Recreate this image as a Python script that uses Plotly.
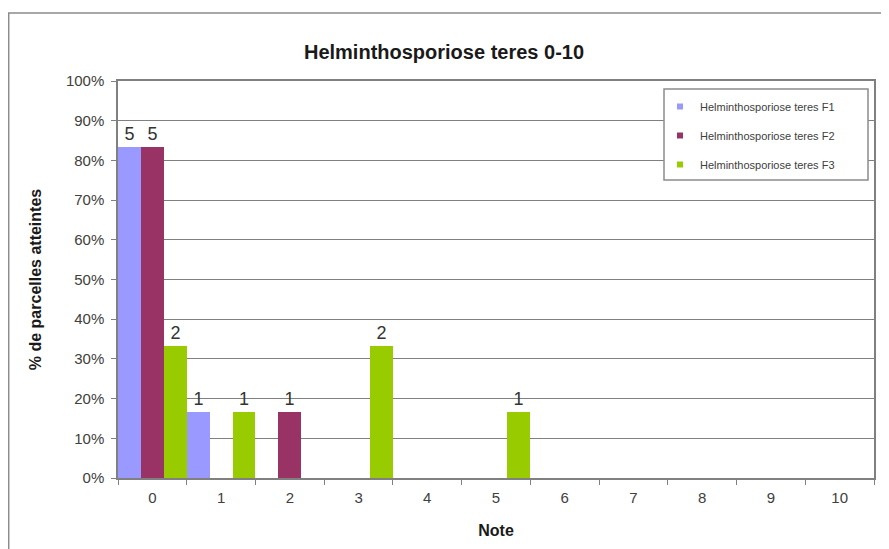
import plotly.graph_objects as go

notes = ["0", "1", "2", "3", "4", "5", "6", "7", "8", "9", "10"]
f1_pct = [0.833, 0.167, 0, 0, 0, 0, 0, 0, 0, 0, 0]
f2_pct = [0.833, 0, 0.167, 0, 0, 0, 0, 0, 0, 0, 0]
f3_pct = [0.333, 0.167, 0, 0.333, 0, 0.167, 0, 0, 0, 0, 0]
f1_n = [5, 1, 0, 0, 0, 0, 0, 0, 0, 0, 0]
f2_n = [5, 0, 1, 0, 0, 0, 0, 0, 0, 0, 0]
f3_n = [2, 1, 0, 2, 0, 1, 0, 0, 0, 0, 0]
names = ["Helminthosporiose teres F1", "Helminthosporiose teres F2", "Helminthosporiose teres F3"]
colors = ["#9999FF", "#993366", "#99CC00"]

fig = go.Figure()
for i, (vals, counts) in enumerate([(f1_pct, f1_n), (f2_pct, f2_n), (f3_pct, f3_n)]):
    fig.add_trace(go.Bar(
        x=notes, y=vals, name=names[i], marker_color=colors[i],
        marker_line_width=0,
        text=[str(c) if c else "" for c in counts],
        textposition="outside", cliponaxis=False,
        textfont=dict(size=18, color="#333333", family="Arial"),
        legendgroup="g%d" % i, showlegend=False,
    ))
# legend entries with small square symbols
for i in range(3):
    fig.add_trace(go.Scatter(
        x=[None], y=[None], mode="markers", name=names[i],
        marker=dict(symbol="square", size=6, color=colors[i]),
        legendgroup="g%d" % i, showlegend=True,
    ))

# The page shows the figure offset by 8px; build in reference pixel coords.
OFF = 8
W, H = 889 - OFF, 549 - OFF
L, R, T, B = 118 - OFF, 889 - 874, 81 - OFF, 549 - 478
pw, ph = W - L - R, H - T - B

def px(xr):
    return (xr - OFF - L) / pw

def py(yr):
    return (H - B - (yr - OFF)) / ph

shapes = [
    # outer chart border
    dict(type="rect", xref="paper", yref="paper", x0=px(8.7), x1=px(900), y0=py(570), y1=py(13),
         line=dict(color="#8c8c8c", width=1.5), layer="below"),
    # legend box
    dict(type="rect", xref="paper", yref="paper", x0=px(664), x1=px(868), y0=py(180), y1=py(89),
         line=dict(color="#8c8c8c", width=1.5), fillcolor="#ffffff"),
]

fig.update_layout(
    width=W, height=H,
    margin=dict(l=L, r=R, t=T, b=B),
    paper_bgcolor="white", plot_bgcolor="white",
    font=dict(family="Arial", color="#404040"),
    title=dict(text="<b>Helminthosporiose teres 0-10</b>", x=(444 - OFF) / W, xanchor="center",
               y=1 - (52 - OFF) / H, yanchor="middle", font=dict(size=20, color="#1a1a1a")),
    barmode="group", bargap=0, bargroupgap=0,
    showlegend=True,
    legend=dict(x=px(660), y=py(92), xanchor="left", yanchor="top",
                bgcolor="rgba(0,0,0,0)", borderwidth=0,
                font=dict(size=11, color="#404040"), tracegroupgap=10,
                itemwidth=30),
    shapes=shapes,
    xaxis=dict(type="category", range=[-0.5, 10.5], showline=True, linecolor="#808080",
               linewidth=1.5, mirror=True, ticks="outside", tickson="boundaries", ticklen=5,
               tickcolor="#808080", tickfont=dict(size=15, color="#404040"),
               ticklabelstandoff=5,
               title=dict(text="<b>Note</b>", font=dict(size=16, color="#1a1a1a"), standoff=20),
               showgrid=False),
    yaxis=dict(range=[0, 1], dtick=0.1, tickformat=".0%", showline=True, linecolor="#808080",
               linewidth=1.5, mirror=True, ticks="outside", ticklen=5, tickcolor="#808080",
               gridcolor="#808080", gridwidth=1, zeroline=False,
               tickfont=dict(size=15, color="#404040"), ticklabelstandoff=4,
               title=dict(text="<b>% de parcelles atteintes</b>", font=dict(size=16, color="#1a1a1a"),
                          standoff=20)),
)

fig.write_html("out.html")
